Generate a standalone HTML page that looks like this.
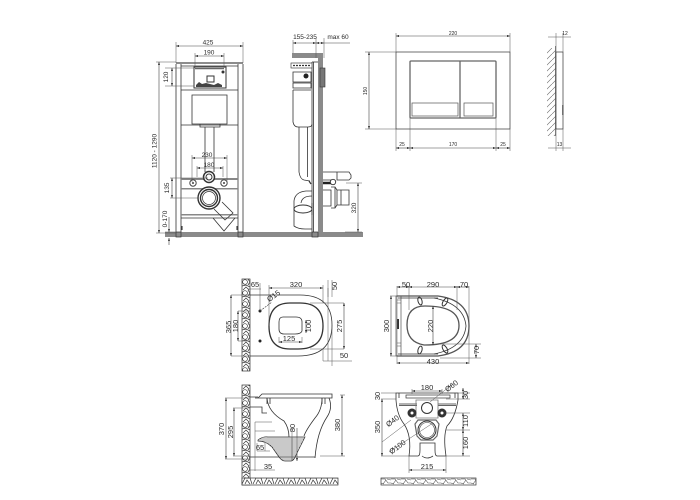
<!DOCTYPE html>
<html><head><meta charset="utf-8"><style>
html,body{margin:0;padding:0;background:#fff}
svg{display:block}
text{font-family:"Liberation Sans",sans-serif;fill:#2a2a2a;text-anchor:middle}
.d{stroke:#555;stroke-width:.5;fill:none}
.a{stroke:#444;stroke-width:.6;fill:none;marker-start:url(#as);marker-end:url(#ae)}
.o{stroke:#333;stroke-width:.8;fill:none}
.t{stroke:#333;stroke-width:1.2;fill:none}
.g{fill:#8a8a8a;stroke:none}
.s{font-size:6.5px}.m{font-size:7.5px}
</style></head><body>
<svg width="700" height="500" viewBox="0 0 700 500" xmlns="http://www.w3.org/2000/svg">
<defs>
<marker id="ae" markerWidth="5" markerHeight="4" refX="5" refY="2" orient="auto"><path d="M0 .4L5 2L0 3.6z" fill="#222"/></marker>
<marker id="as" markerWidth="5" markerHeight="4" refX="0" refY="2" orient="auto"><path d="M5 .4L0 2L5 3.6z" fill="#222"/></marker>
<pattern id="st" width="8" height="11" patternUnits="userSpaceOnUse" x="242" y="279"><rect width="8" height="11" fill="#fff"/><ellipse cx="3" cy="3" rx="2.4" ry="2.3" fill="none" stroke="#333" stroke-width=".7"/><path d="M0 7L4 6L8 8M1 11L4 8L7 11M6 0L8 3L6 6" fill="none" stroke="#333" stroke-width=".7"/></pattern>
<pattern id="sh" width="11" height="8" patternUnits="userSpaceOnUse" x="242" y="477"><rect width="11" height="8" fill="#fff"/><path d="M0 7L3 1L8 1L10 7M3 7L5 3L8 7" fill="none" stroke="#333" stroke-width=".7"/></pattern>
<pattern id="sk" width="10" height="7" patternUnits="userSpaceOnUse" x="381" y="478"><rect width="10" height="7" fill="#fff"/><path d="M0 1L4 1L7 5L10 5M2 6L5 2M6 1L10 2M0 5L3 6" fill="none" stroke="#555" stroke-width=".6"/></pattern>
<pattern id="dots" width="2" height="2" patternUnits="userSpaceOnUse"><circle cx="1" cy="1" r=".65" fill="#555"/></pattern>
<pattern id="ha" width="6" height="6" patternUnits="userSpaceOnUse"><path d="M-1 7L7 -1" stroke="#666" stroke-width=".6"/></pattern>
</defs>

<!-- floor -->
<rect class="g" x="165" y="232" width="198" height="5"/>
<rect x="176" y="232" width="5" height="5" fill="none" stroke="#333" stroke-width=".7"/>
<rect x="238" y="232" width="5" height="5" fill="none" stroke="#333" stroke-width=".7"/>
<rect x="312" y="232" width="6" height="5" fill="none" stroke="#333" stroke-width=".7"/>

<!-- front frame -->
<path class="o" d="M176 64V232M181 64V232M238 64V232M243 64V232"/>
<path d="M176 63H243" stroke="#666" stroke-width="1.400" fill="none"/>
<path class="o" d="M181 66H238M181 90H238"/>
<path class="o" d="M181 125H238"/>
<path style="fill:#888" d="M181 178h57v2h-57zM181 188h57v1.500h-57zM181 214h57v1.500h-57z"/>
<path class="o" d="M181 218H238"/>
<!-- control box -->
<rect x="194" y="67" width="32" height="21" fill="none" stroke="#333"/>
<path d="M195 68h29v1.300h-29z" fill="#666"/>
<rect x="207" y="76" width="7" height="6" fill="none" stroke="#333"/>
<path d="M196 85l3-3 3 2 4-1 4 1 4 1 4-2 4 2v2h-26z" fill="#444"/>
<circle cx="223" cy="72" r="1.500" fill="#333"/>
<!-- tank -->
<path class="o" d="M192 95H227V124H192zM200 124V127H220V124M205 127V172M214 127V172"/>
<!-- pipes -->
<circle cx="209" cy="177" r="5.500" fill="#fff" stroke="#333" stroke-width="1.500"/>
<circle cx="209" cy="177" r="3" fill="none" stroke="#333"/>
<circle cx="193" cy="183" r="3.200" fill="#fff" stroke="#444" stroke-width="1"/>
<circle cx="224" cy="183" r="3.200" fill="#fff" stroke="#444" stroke-width="1"/>
<circle cx="193" cy="183" r="1" fill="#444"/><circle cx="224" cy="183" r="1" fill="#444"/>
<!-- outlet -->
<path class="o" d="M222 202L233 213L225 220L214 209M213 218L224 231L235 218"/>
<circle cx="209" cy="198" r="11" fill="#fff" stroke="#333" stroke-width="1.400"/>
<circle cx="209" cy="198" r="8.500" fill="none" stroke="#333" stroke-width="1.400"/>
<circle cx="209" cy="198" r="6.500" fill="#fff" stroke="#333" stroke-width=".7"/>
<path d="M182 226v4" stroke="#222" stroke-width="1"/>
<path d="M237 226v4" stroke="#222" stroke-width="1"/>

<!-- front dims -->
<path class="d" d="M176 42V63M243 42V63M195 53V68M224 53V68M165 68H194M165 86H194M156 62H176M156 233H176M170 178H208M170 198H198M165 232H176M192 155V182M227 155V182M197 166V177M223 166V177"/>
<path class="a" d="M176 46H243"/>
<text class="s" x="208" y="44.500">425</text>
<path class="a" d="M195 56H224"/>
<text class="s" x="209" y="54.500">190</text>
<path class="a" d="M172 68V86"/>
<text class="s" transform="translate(168 77) rotate(-90)">120</text>
<path class="a" d="M159 62V233"/>
<text class="s" transform="translate(156.500 151) rotate(-90)">1120 - 1290</text>
<path class="a" d="M172 178V198"/>
<text class="s" transform="translate(169 188) rotate(-90)">135</text>
<path class="a" d="M169 217V232" style="marker-start:none"/>
<path d="M169 245V238" stroke="#444" stroke-width=".6" marker-end="url(#ae)"/>
<text class="s" transform="translate(167 219) rotate(-90)">0-170</text>
<path class="a" d="M192 158H227"/>
<text class="s" x="207" y="157">230</text>
<path class="a" d="M197 168H223"/>
<text class="s" x="209" y="167">180</text>

<!-- side section -->
<rect class="g" x="292" y="53" width="31" height="5"/>
<rect class="g" x="318" y="58" width="5" height="174"/>
<rect x="320" y="68" width="5" height="19" fill="#777" stroke="#333" stroke-width=".6"/>
<path class="o" d="M312 62V232M313.500 62V232"/>
<path class="o" d="M312 62H318"/>
<!-- side cistern head -->
<rect x="291" y="63" width="21" height="5" fill="#fff" stroke="#444" stroke-width=".7"/>
<path d="M293 65.500h17" stroke="#333" stroke-width="1.200" stroke-dasharray="2 1"/>
<path class="o" d="M293 72H311V82H293zM293 83H311V88H293z"/>
<circle cx="306" cy="76" r="2.500" fill="#222"/>
<path class="o" d="M293 90V122Q294 127 298 127H308Q312 127 312 124M293 90H311"/>
<path class="o" d="M299 127V172Q300 179 304 180L310 181M307.500 127V177"/>
<path d="M309 181L311 184" stroke="#333" stroke-width="1.200"/>
<!-- trap -->
<path class="o" d="M294 207V201Q295 192 306 191H312M301 203Q302 196 312 196"/>
<path class="o" d="M294 207V226Q298 229 305 229H312M312 203V215"/>
<ellipse cx="303" cy="209" rx="9" ry="4" fill="none" stroke="#333"/>
<!-- side spigots -->
<path class="o" d="M323 172H337M323 180H331"/>
<path class="o" d="M337 172V180H349L351 178V175L349 172H337"/>
<path d="M323 183H331" stroke="#222" stroke-width="2.500"/>
<circle cx="333" cy="182" r="2.700" fill="#fff" stroke="#333" stroke-width=".9"/>
<path class="o" d="M323 190H331V206H323"/>
<path class="o" d="M331 187H335V208H331M335 187L337 190V205L335 208M337 190H341V205H337M341 190H349V205H341"/>
<!-- side dims -->
<path class="d" d="M293 40V53M316 38V58M324 38V58M346 183H362M345 232H362"/>
<path class="a" d="M293 43H316"/>
<text class="s" x="305" y="39">155-235</text>
<path class="a" d="M316 43H324"/>
<text class="s" x="338" y="39">max 60</text>
<path d="M324 43H350" stroke="#444" stroke-width=".5"/>
<path class="a" d="M358 183V232"/>
<text class="s" transform="translate(356 208) rotate(-90)">320</text>

<!-- flush plate -->
<rect x="396" y="52" width="114" height="77" fill="none" stroke="#333" stroke-width=".7"/>
<rect x="410" y="61" width="86" height="57" rx="1" fill="none" stroke="#666" stroke-width="1.300"/>
<path d="M460 61V118" stroke="#666" stroke-width="1.300"/>
<rect x="412" y="103" width="46" height="13" fill="none" stroke="#555" stroke-width=".7"/>
<rect x="464" y="103" width="29" height="13" fill="none" stroke="#555" stroke-width=".7"/>
<path class="d" d="M396 33V52M510 33V52M365 52H396M365 129H396M396 129V151M410 118V151M496 118V151M510 129V151"/>
<path class="a" d="M396 36H510"/>
<text x="453" y="35" style="font-size:5px">220</text>
<path class="a" d="M369 52V129"/>
<text transform="translate(367 91) rotate(-90)" style="font-size:5px">150</text>
<path class="a" d="M396 148H410"/><text x="402" y="146" style="font-size:5px">25</text>
<path class="a" d="M410 148H496"/><text x="453" y="146" style="font-size:5px">170</text>
<path class="a" d="M496 148H510"/><text x="503" y="146" style="font-size:5px">25</text>
<!-- plate side -->
<rect x="547" y="48" width="8.500" height="88" fill="url(#ha)"/>
<path d="M555.500 46V136" stroke="#555" stroke-width=".7"/>
<rect x="556" y="52" width="7" height="77" fill="none" stroke="#333" stroke-width=".7"/>
<path d="M562.800 105v10" stroke="#333" stroke-width="1"/>
<path class="d" d="M556 33V52M563 33V52M556 129V151M563 129V151"/>
<path class="d" d="M548 37H571M548 148H571"/>
<text x="565" y="35" style="font-size:5px">12</text>
<text x="559.500" y="146" style="font-size:5px">13</text>

<!-- toilet top (left) -->
<rect x="242" y="279" width="8" height="92" fill="url(#st)" stroke="#333" stroke-width=".7"/>
<path class="o" d="M250 295H300Q332 295 332 325Q332 356 298 356H250"/>
<path d="M290 303H300Q323 303 323 326Q323 349 298 349H290Q269 349 269 326Q269 303 290 303z" fill="none" stroke="#333" stroke-width="1.300"/>
<path class="o" d="M283 317H296Q302 317 302 322V331Q301 334 295 334H284Q279 334 279 329V322Q279 317 283 317z"/>
<circle cx="260" cy="311" r="1.500" fill="#222"/><circle cx="260" cy="341" r="1.500" fill="#222"/>
<path d="M260 311L272 302" stroke="#333" stroke-width=".6" stroke-dasharray="2 1"/>
<path class="d" d="M260 283V311M269 285V326M323 285V303M323 349V361M332 325V366M328 288V361M310 303H344M310 349H344M231 295H250M231 356H250M238 311H250M238 341H250M279 337V343M302 337V343"/>
<path class="a" d="M231 295V356"/>
<text class="m" transform="translate(231 327) rotate(-90)">365</text>
<path class="a" d="M238 311V341"/>
<text class="m" transform="translate(238 326) rotate(-90)">180</text>
<path class="a" d="M269 288H323"/>
<text class="m" x="296" y="287">320</text>
<path class="a" d="M344 303V349"/>
<text class="m" transform="translate(342 326) rotate(-90)">275</text>
<path class="a" d="M279 342H302"/>
<text class="m" x="289" y="341">125</text>
<path class="a" d="M306 320V333"/>
<text class="m" transform="translate(311 326) rotate(-90)">100</text>
<text class="m" x="255" y="287">65</text>
<path class="d" d="M248 289H261"/>
<text class="m" transform="translate(275 298) rotate(-36)">Ø15</text>
<text class="m" transform="translate(337 286) rotate(-90)">50</text>
<path class="d" d="M328 280V297M332 280V297"/>
<path class="d" d="M323 361H352"/>
<text class="m" x="344" y="358">50</text>

<!-- seat top (right) -->
<rect x="396" y="296" width="5" height="60" fill="none" stroke="#333" stroke-width=".6"/>
<path d="M397 319h2v10h-2z" fill="#333"/>
<path class="d" d="M397 300h4M397 303h4M397 343h4M397 346h4"/>
<path d="M397 296H438Q469 300 469 326Q469 352 438 356H397" fill="none" stroke="#555" stroke-width="1.300"/>
<path class="o" d="M398 298H438M398 354H438"/>
<path class="o" d="M434 298Q464 304 466 326Q464 348 434 354"/>
<path d="M425 306Q459 306 459 325.500Q459 345 425 345H424Q407 342 407 325Q407 306 425 306z" fill="none" stroke="#555" stroke-width="1.300"/>
<ellipse cx="420" cy="301" rx="2" ry="4" transform="rotate(-15 420 301)" fill="none" stroke="#333"/>
<ellipse cx="445" cy="302" rx="2" ry="4.500" transform="rotate(30 445 302)" fill="none" stroke="#333"/>
<ellipse cx="420" cy="350" rx="2" ry="4" transform="rotate(15 420 350)" fill="none" stroke="#333"/>
<ellipse cx="445" cy="349" rx="2" ry="4.500" transform="rotate(-30 445 349)" fill="none" stroke="#333"/>
<path class="d" d="M397 286V364M409 286V310M457 286V310M469 286V364M390 296H397M390 356H397M440 344H481M440 358H481"/>
<path class="a" d="M391 296V356"/>
<text class="m" transform="translate(389 326) rotate(-90)">300</text>
<path class="a" d="M397 287H409"/><text class="m" x="406" y="287">50</text>
<path class="a" d="M409 287H457"/><text class="m" x="433" y="287">290</text>
<path class="a" d="M457 287H469"/><text class="m" x="464" y="287">70</text>
<path class="a" d="M433 306V345"/>
<text class="m" transform="translate(433 326) rotate(-90)">220</text>
<path class="a" d="M397 363H469"/>
<text class="m" x="433" y="364">430</text>
<path class="a" d="M476 344V358"/>
<text class="m" transform="translate(479 350) rotate(-90)">70</text>

<!-- toilet side (left) -->
<rect x="242" y="385" width="8" height="100" fill="url(#st)" stroke="#333" stroke-width=".7"/>
<rect x="242" y="478" width="96" height="7" fill="url(#sh)" stroke="#333" stroke-width=".7"/>
<path class="o" d="M255 398H258L262 394H332V398H256"/>
<path class="o" d="M329 398Q333 408 327 417Q317 432 315 458M322 398Q322 410 315 418Q306 430 304 436"/>
<path class="o" d="M267 398Q268 412 284 421Q289 428 289 437"/>
<path class="o" d="M250 397H258M250 407H262V413H267"/>
<path class="o" d="M267 398V404M270 398V404M322 398V404M325 398V404"/>
<path d="M258 440Q263 436 268 437H305L297 453Q294 461 291 461H285Q282 461 279 457L272 447Q266 441 258 441z" fill="url(#dots)" stroke="#333" stroke-width=".7"/>
<path class="o" d="M250 457H315"/>
<path class="d" d="M225 398H250M225 459H250M233 408H250M233 456H250M255 422H272M255 431H275M255 422V471M292 428V461M340 395H345M320 456H345"/>
<path class="a" d="M226 398V459"/>
<text class="m" transform="translate(224 429) rotate(-90)">370</text>
<path class="a" d="M234 408V456"/>
<text class="m" transform="translate(233 432) rotate(-90)">295</text>
<path class="a" d="M342 395V456"/>
<text class="m" transform="translate(340 425) rotate(-90)">380</text>
<path class="a" d="M297 428V461" style="marker-start:none"/>
<text class="m" transform="translate(295 428) rotate(-90)">80</text>
<path class="d" d="M257 443V451M265 443V451M257 451H270"/>
<text class="m" x="260" y="450">65</text>
<path class="d" d="M250 470H275"/>
<text class="m" x="268" y="469">35</text>

<!-- toilet front (right) -->
<rect x="406" y="395" width="44" height="3" fill="#fff" stroke="#333" stroke-width=".7"/>
<path class="o" d="M396 393H458V400Q455 418 447 426Q443 436 446 456H437Q435 456 435 450V443H420V450Q420 456 418 456H409Q412 436 404 424Q397 415 396 400z"/>
<path class="o" d="M399 393V398M455 393V398"/>
<path class="o" d="M399 404H417M438 404H456M399 405.500H417M438 405.500H456"/>
<path d="M416 400H438V418H416z" fill="none" stroke="#777" stroke-width=".8"/>
<circle cx="427" cy="408" r="5.500" fill="#fff" stroke="#333"/>
<circle cx="412" cy="413" r="4" fill="#333" stroke="#333"/>
<circle cx="412" cy="413" r="1.500" fill="#fff"/>
<circle cx="442" cy="413" r="4" fill="#333" stroke="#333"/>
<circle cx="442" cy="413" r="1.500" fill="#fff"/>
<path d="M418 420H436L439 424L437 436L433 440H421L417 436L415 424z" fill="none" stroke="#666" stroke-width="1.200"/>
<circle cx="427" cy="430" r="9" fill="#fff" stroke="#333"/>
<circle cx="427" cy="430" r="7.500" fill="none" stroke="#333" stroke-width=".6"/>
<path class="o" d="M422 456Q427 460 433 456"/>
<path class="d" d="M381 393H396M381 399H396M381 456H409M412 389V394M442 389V394M446 393H470M446 399H470M446 413H470M446 430H470M446 456H470M409 456V473M446 456V473M382 442L411 420M389 452L433 423M430 402L454 383"/>
<path class="a" d="M382 399V456"/>
<text class="m" transform="translate(380 427) rotate(-90)">350</text>
<text class="m" transform="translate(380 396) rotate(-90)">30</text>
<path class="a" d="M412 391H442"/>
<text class="m" x="427" y="390">180</text>
<path class="a" d="M463 388V399"/>
<text class="m" transform="translate(468 395) rotate(-90)">30</text>
<path class="a" d="M463 413V430"/>
<text class="m" transform="translate(468 421) rotate(-90)">110</text>
<path class="a" d="M463 430V456"/>
<text class="m" transform="translate(468 443) rotate(-90)">160</text>
<path class="a" d="M409 470H446"/>
<text class="m" x="427" y="469">215</text>
<text class="m" transform="translate(394 423) rotate(-37)">Ø40</text>
<text class="m" transform="translate(399 449) rotate(-37)">Ø100</text>
<text class="m" transform="translate(453 388) rotate(-37)">Ø60</text>
<rect x="381" y="478" width="95" height="7" fill="url(#sk)" stroke="#333" stroke-width=".7"/>
</svg>
</body></html>
